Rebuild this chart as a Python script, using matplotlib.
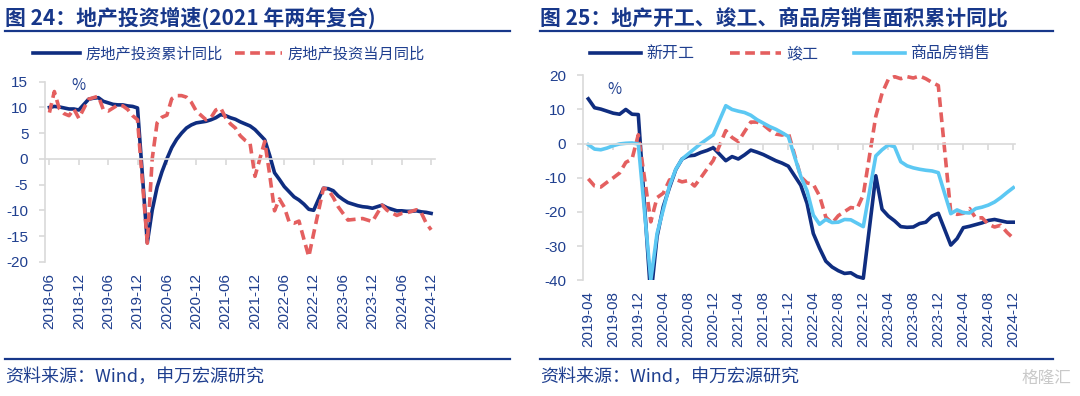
import matplotlib
matplotlib.use("Agg")
import matplotlib.pyplot as plt
from matplotlib.lines import Line2D

plt.rcParams['font.family'] = ['Noto Sans CJK SC', 'DejaVu Sans']

# ---- 图24 数据（2018-06 ~ 2024-12，不含1月）----
inv_cum = [10.0, 10.2, 10.1, 9.9, 9.7, 9.7, 9.5,
           11.6, 11.8, 11.9, 11.2, 10.9, 10.6, 10.5, 10.5, 10.3, 10.2, 9.9,
           -16.3, -10.0, -5.5, -2.5, 0.0, 2.2, 3.8, 5.0, 6.0, 6.6, 7.0,
           7.3, 7.6, 8.0, 8.6, 8.4, 8.0, 7.7, 7.2, 6.8, 6.4, 5.7,
           3.7, 0.7, -2.7, -4.0, -5.4, -6.4, -7.4, -8.0, -8.8, -9.8, -10.0,
           -5.7, -5.8, -6.2, -7.2, -7.9, -8.5, -8.8, -9.1, -9.3, -9.4, -9.6,
           -9.0, -9.5, -9.8, -10.1, -10.1, -10.2, -10.2, -10.1, -10.3, -10.4, -10.6]
inv_mon = [9.0, 13.1, 9.8, 8.8, 8.4, 9.7, 7.9,
           11.6, 11.9, 12.2, 9.6, 9.3, 9.9, 10.5, 10.3, 9.6, 8.4, 7.6,
           -16.4, 0.0, 7.0, 8.1, 8.5, 11.7, 12.3, 12.3, 12.0, 11.0, 9.3,
           7.6, 8.0, 9.5, 9.9, 8.0, 6.8, 6.0, 4.5, 3.6, 3.0, -3.4,
           3.4, -3.0, -10.1, -7.8, -9.4, -12.3, -12.5, -12.1, -15.6, -19.0, -14.5,
           -5.7, -6.0, -7.5, -9.3, -10.6, -11.9, -11.8, -11.7, -11.6, -11.9, -12.2,
           -9.0, -10.0, -10.5, -11.0, -10.6, -10.5, -10.2, -9.9, -10.5, -12.5, -13.8]
inv_labels = ['2018-06', '2018-12', '2019-06', '2019-12', '2020-06', '2020-12', '2021-06',
              '2021-12', '2022-06', '2022-12', '2023-06', '2023-12', '2024-06', '2024-12']

# ---- 图25 数据（2019-04 ~ 2024-12，不含1月）----
starts = [13.1, 10.5, 10.1, 9.5, 8.9, 8.6, 10.0, 8.6, 8.5,
          -44.9, -27.2, -18.4, -12.8, -7.6, -4.5, -3.6, -3.4, -2.6, -2.0, -1.2,
          -5.0, -3.8, -4.5, -3.3, -1.9, -2.5, -3.2, -4.1, -5.0, -5.7, -6.6,
          -12.2, -17.5, -26.3, -30.6, -34.4, -36.1, -37.2, -38.0, -37.8, -38.9, -39.4,
          -9.4, -19.2, -21.2, -22.6, -24.3, -24.5, -24.4, -23.4, -23.0, -21.2, -20.4,
          -29.7, -27.8, -24.6, -24.2, -23.7, -23.2, -22.5, -22.2, -22.6, -23.0, -23.0]
completions = [-10.3, -12.4, -12.7, -11.3, -10.0, -8.6, -5.5, -4.5, 2.6,
               -22.9, -15.8, -14.5, -10.6, -10.5, -11.2, -10.8, -12.4, -10.0, -7.4, -4.9,
               3.8, 1.8, 0.6, 3.5, 6.3, 6.3, 5.5, 4.0, 2.8, 2.5, 3.2,
               -9.7, -11.5, -11.9, -15.3, -21.5, -23.3, -21.1, -19.9, -18.7, -19.0, -15.0,
               8.0, 14.7, 18.8, 19.6, 19.0, 19.6, 19.2, 19.8, 19.0, 17.9, 17.0,
               -20.2, -20.7, -20.4, -19.0, -21.8, -21.7, -23.6, -24.4, -23.9, -26.0, -27.7]
sales = [-0.3, -1.6, -1.8, -1.3, -0.6, -0.1, 0.1, 0.2, -0.1,
         -39.9, -26.3, -19.3, -12.3, -7.5, -4.5, -3.0, -1.5, 0.0, 1.3, 2.6,
         11.1, 10.0, 9.5, 9.1, 8.3, 7.0, 6.0, 5.0, 4.2, 3.2, 2.1,
         -9.6, -13.8, -20.9, -23.6, -22.2, -23.1, -23.0, -22.2, -22.3, -23.3, -24.3,
         -3.6, -1.8, -0.4, -0.9, -5.3, -6.5, -7.1, -7.5, -7.8, -8.0, -8.5,
         -20.5, -19.4, -20.2, -20.3, -19.0, -18.6, -18.0, -17.1, -15.8, -14.3, -12.9]
area_labels = ['2019-04', '2019-08', '2019-12', '2020-04', '2020-08', '2020-12', '2021-04',
               '2021-08', '2021-12', '2022-04', '2022-08', '2022-12', '2023-04', '2023-08',
               '2023-12', '2024-04', '2024-08', '2024-12']

NAVY = '#0f2d80'
RED = '#e45f5f'
LBLUE = '#5cc8f3'
TXT = '#1f3f8f'
GRAY = '#d9d9d9'
NUMFONT = ['Liberation Sans', 'Noto Sans CJK SC']


def month_index(y0, m0, y1):
    # 月份序号，1月无数据（1-2月合并）
    idx = []
    for y in range(y0, y1 + 1):
        for m in range(2, 13):
            if y == y0 and m < m0:
                continue
            idx.append((y - y0) * 12 + m - m0)
    return idx


def style_axes(ax, ylim, yticks, xlim, xticks, xlabels):
    ax.set_ylim(*ylim)
    ax.set_xlim(*xlim)
    ax.set_yticks(yticks)
    ax.set_yticklabels([str(v) for v in yticks], family=NUMFONT)
    for s in ['top', 'right']:
        ax.spines[s].set_visible(False)
    ax.spines['left'].set_color(GRAY)
    ax.spines['bottom'].set_color(GRAY)
    ax.spines['bottom'].set_position(('data', 0))
    ax.spines['left'].set_linewidth(1.2)
    ax.spines['bottom'].set_linewidth(1.2)
    ax.set_xticks(xticks)
    ax.tick_params(axis='x', labelbottom=False, length=4, color=GRAY, width=1.2)
    ax.tick_params(axis='y', length=4, color=GRAY, width=1.2, labelsize=11,
                   labelcolor=TXT, pad=8)
    sec = ax.secondary_xaxis(0)
    sec.set_xticks(xticks)
    sec.set_xticklabels(xlabels, rotation=90, family=NUMFONT)
    sec.tick_params(length=0, labelsize=11, labelcolor=TXT, pad=8)
    sec.spines['bottom'].set_visible(False)


fig = plt.figure(figsize=(10.8, 3.96), dpi=100)

# ---------- 图24 ----------
ax1 = fig.add_axes([0.0417, 0.3391, 0.3611, 0.4545])
x1 = month_index(2018, 6, 2024)
l1, = ax1.plot(x1, inv_cum, color=NAVY, lw=2.6, label='房地产投资累计同比')
l2, = ax1.plot(x1, inv_mon, color=RED, lw=2.6, dashes=(2.7, 1.5), label='房地产投资当月同比')
style_axes(ax1, (-20, 15), list(range(-20, 16, 5)), (-0.9, 78.8),
           list(range(0, 79, 6)), inv_labels)
fig.legend(handles=[l1, l2], loc='center left', bbox_to_anchor=(0.0231, 0.864),
           ncol=2, frameon=False, fontsize=11, handlelength=3.1, handletextpad=0.35,
           columnspacing=0.8, borderpad=0, labelcolor=TXT)
fig.text(0.066, 0.785, '%', color=TXT, fontsize=11, ha='left', va='center')

# ---------- 图25 ----------
ax2 = fig.add_axes([0.5398, 0.2922, 0.4, 0.5177])
x2 = month_index(2019, 4, 2024)
r1, = ax2.plot(x2, starts, color=NAVY, lw=2.6, label='新开工')
r2, = ax2.plot(x2, completions, color=RED, lw=2.6, dashes=(2.7, 1.5), label='竣工')
r3, = ax2.plot(x2, sales, color=LBLUE, lw=2.6, label='商品房销售')
style_axes(ax2, (-40, 20), list(range(-40, 21, 10)), (-0.85, 68.27),
           list(range(0, 69, 4)), area_labels)
fig.legend(handles=[r1, r2, r3], loc='center left', bbox_to_anchor=(0.5389, 0.864),
           ncol=3, frameon=False, fontsize=11.5, handlelength=3.2, handletextpad=0.35,
           columnspacing=2.2, borderpad=0, labelcolor=TXT)
fig.text(0.562, 0.773, '%', color=TXT, fontsize=11, ha='left', va='center')

# ---------- 标题、分隔线、资料来源 ----------
TITLE = '#17378a'
fig.text(0.0046, 0.955, '图 24：地产投资增速(2021 年两年复合)', fontsize=15,
         fontweight='bold', color=TITLE, ha='left', va='center')
fig.text(0.5, 0.955, '图 25：地产开工、竣工、商品房销售面积累计同比', fontsize=15,
         fontweight='bold', color=TITLE, ha='left', va='center')
for xa, xb in [(0.0046, 0.4722), (0.5, 0.975)]:
    for yy in (0.9217, 0.0934):
        fig.add_artist(Line2D([xa, xb], [yy, yy], transform=fig.transFigure,
                              color=TITLE, lw=1.6))
fig.text(0.0046, 0.048, '资料来源：Wind，申万宏源研究', fontsize=13, color=TXT,
         ha='left', va='center')
fig.text(0.5, 0.048, '资料来源：Wind，申万宏源研究', fontsize=13, color=TXT,
         ha='left', va='center')
fig.text(0.992, 0.045, '格隆汇', fontsize=12, color='#c9c9c9', ha='right', va='center')

fig.savefig('out.png', dpi=100)
